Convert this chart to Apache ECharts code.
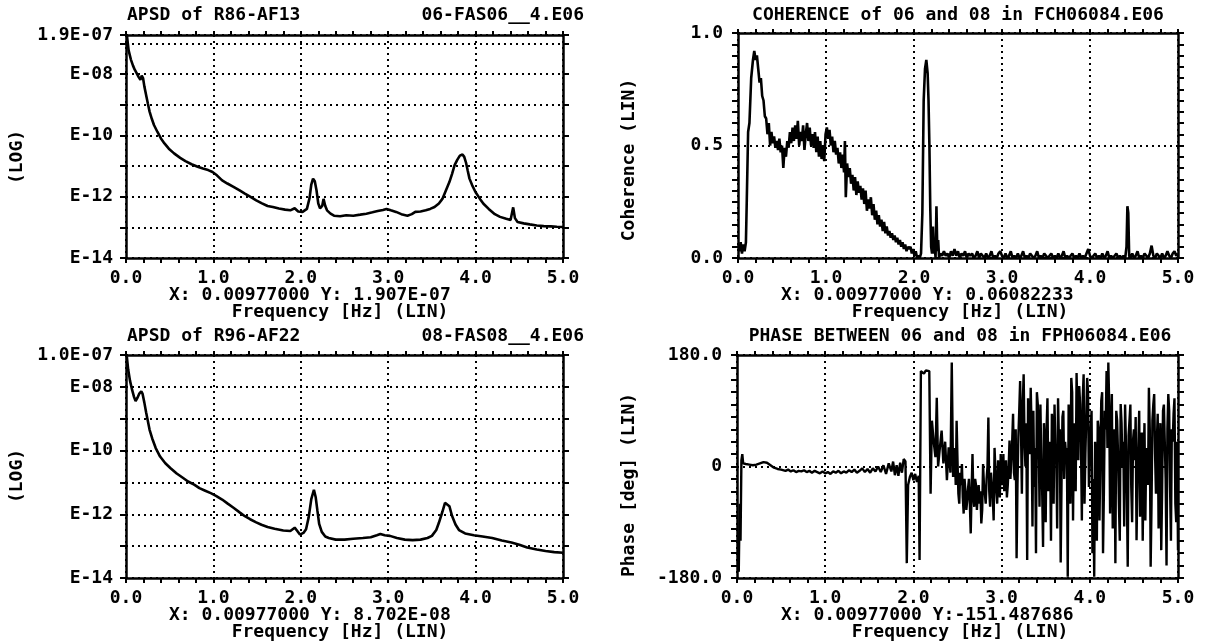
<!DOCTYPE html>
<html><head><meta charset="utf-8">
<script src="https://cdn.jsdelivr.net/npm/echarts@6/dist/echarts.min.js"></script>
<style>html,body{margin:0;padding:0;background:#fff}#c{width:1206px;height:644px}</style>
</head><body><div id="c"></div>
<script>
// ---------- data ----------
const xTickLabels = ['0.0','1.0','2.0','3.0','4.0','5.0'];

// APSD of R86-AF13 (top left)
const freqA = [0.00977,0.03,0.056,0.08,0.10,0.12,0.145,0.165,0.18,0.195,0.21,0.23,0.25,0.27,0.295,0.32,0.36,0.40,0.44,0.49,0.55,0.62,0.68,0.75,0.82,0.88,0.94,0.99,1.04,1.10,1.16,1.23,1.30,1.36,1.42,1.49,1.55,1.62,1.68,1.75,1.82,1.88,1.93,1.97,2.02,2.07,2.10,2.12,2.14,2.16,2.18,2.20,2.22,2.245,2.26,2.28,2.30,2.34,2.38,2.45,2.52,2.60,2.68,2.75,2.82,2.88,2.94,2.98,3.03,3.09,3.15,3.22,3.27,3.31,3.37,3.43,3.48,3.53,3.58,3.62,3.66,3.70,3.73,3.76,3.79,3.82,3.85,3.87,3.89,3.91,3.93,3.96,4.00,4.05,4.09,4.15,4.22,4.28,4.35,4.40,4.43,4.45,4.48,4.55,4.62,4.70,4.78,4.86,4.93,5.00];
const apsdA = [1.9e-7,6.0e-8,3.0e-8,1.9e-8,1.4e-8,1.1e-8,8.0e-9,6.5e-9,9.0e-9,7.5e-9,4.0e-9,2.1e-9,1.1e-9,6.0e-10,3.5e-10,2.2e-10,1.3e-10,8.0e-11,5.5e-11,3.7e-11,2.6e-11,1.85e-11,1.45e-11,1.15e-11,9.5e-12,8.3e-12,7.4e-12,6.4e-12,5.0e-12,3.4e-12,2.7e-12,2.1e-12,1.6e-12,1.26e-12,1.0e-12,7.6e-13,6.2e-13,5.0e-13,4.6e-13,4.1e-13,3.8e-13,3.6e-13,4.2e-13,3.3e-13,3.2e-13,4.0e-13,9.0e-13,2.5e-12,3.9e-12,3.2e-12,1.6e-12,6.0e-13,4.2e-13,5.0e-13,8.5e-13,5.0e-13,3.6e-13,2.8e-13,2.4e-13,2.3e-13,2.5e-13,2.4e-13,2.6e-13,2.8e-13,3.1e-13,3.4e-13,3.7e-13,4.0e-13,3.6e-13,3.2e-13,2.7e-13,2.4e-13,2.7e-13,3.2e-13,3.3e-13,3.6e-13,4.0e-13,4.6e-13,6.0e-13,8.5e-13,1.6e-12,3.0e-12,5.5e-12,1.07e-11,1.6e-11,2.2e-11,2.4e-11,2.0e-11,1.3e-11,7.0e-12,3.9e-12,2.4e-12,1.4e-12,8.5e-13,5.9e-13,4.0e-13,2.7e-13,2.2e-13,1.9e-13,1.75e-13,4.5e-13,2.0e-13,1.5e-13,1.35e-13,1.25e-13,1.15e-13,1.1e-13,1.08e-13,1.05e-13,1.03e-13];

// APSD of R96-AF22 (bottom left)
const freqB = [0.00977,0.025,0.045,0.07,0.09,0.11,0.13,0.15,0.175,0.19,0.21,0.23,0.25,0.27,0.30,0.34,0.39,0.45,0.51,0.58,0.65,0.71,0.78,0.84,0.90,0.97,1.03,1.10,1.16,1.23,1.30,1.36,1.42,1.49,1.55,1.62,1.70,1.80,1.88,1.93,1.96,1.99,2.03,2.06,2.09,2.12,2.15,2.17,2.19,2.21,2.24,2.28,2.32,2.40,2.50,2.60,2.71,2.80,2.87,2.91,2.96,3.02,3.10,3.19,3.28,3.37,3.45,3.50,3.55,3.58,3.62,3.65,3.67,3.70,3.73,3.77,3.81,3.88,3.98,4.08,4.19,4.30,4.41,4.50,4.59,4.70,4.80,4.90,5.00];
const apsdB = [8.7e-8,3.5e-8,1.6e-8,8.0e-9,5.0e-9,3.6e-9,4.5e-9,6.0e-9,7.3e-9,6.0e-9,3.2e-9,1.6e-9,8.5e-10,4.5e-10,2.4e-10,1.2e-10,6.5e-11,4.0e-11,2.8e-11,1.9e-11,1.4e-11,1.07e-11,8.5e-12,6.6e-12,5.6e-12,4.6e-12,3.8e-12,2.9e-12,2.2e-12,1.6e-12,1.15e-12,8.7e-13,7.0e-13,5.6e-13,4.7e-13,4.0e-13,3.5e-13,3.1e-13,3.0e-13,3.8e-13,3.0e-13,2.3e-13,2.6e-13,3.4e-13,8.0e-13,3.0e-12,5.9e-12,3.5e-12,1.3e-12,5.0e-13,2.8e-13,2.0e-13,1.8e-13,1.6e-13,1.6e-13,1.7e-13,1.8e-13,1.9e-13,2.2e-13,2.4e-13,2.2e-13,2.1e-13,1.8e-13,1.6e-13,1.55e-13,1.6e-13,1.8e-13,2.1e-13,3.2e-13,5.4e-13,1.2e-12,2.3e-12,2.6e-12,1.8e-12,9.0e-13,4.8e-13,3.2e-13,2.5e-13,2.2e-13,2.0e-13,1.8e-13,1.5e-13,1.3e-13,1.1e-13,9.0e-14,7.8e-14,7.0e-14,6.5e-14,6.2e-14];

// Coherence of 06 and 08 (top right)
const freqC = [0.00977,0.02,0.03,0.045,0.06,0.075,0.09,0.10,0.115,0.13,0.15,0.17,0.185,0.20,0.215,0.23,0.245,0.26,0.275,0.29,0.305,0.32,0.335,0.35,0.365,0.38,0.395,0.41,0.425,0.44,0.455,0.47,0.485,0.50,0.515,0.53,0.545,0.56,0.575,0.59,0.605,0.62,0.635,0.65,0.665,0.68,0.695,0.71,0.725,0.74,0.755,0.77,0.785,0.80,0.815,0.83,0.845,0.86,0.875,0.89,0.905,0.92,0.935,0.95,0.965,0.98,0.995,1.01,1.025,1.04,1.055,1.07,1.085,1.10,1.115,1.13,1.145,1.16,1.175,1.19,1.205,1.215,1.225,1.24,1.255,1.27,1.285,1.30,1.315,1.33,1.345,1.36,1.375,1.39,1.405,1.42,1.435,1.45,1.465,1.48,1.495,1.51,1.525,1.54,1.555,1.57,1.585,1.60,1.615,1.63,1.645,1.66,1.675,1.69,1.705,1.72,1.735,1.75,1.765,1.78,1.795,1.81,1.825,1.84,1.855,1.87,1.885,1.90,1.915,1.93,1.945,1.96,1.975,1.99,2.005,2.02,2.035,2.05,2.065,2.08,2.095,2.11,2.125,2.14,2.155,2.165,2.175,2.185,2.195,2.205,2.215,2.225,2.235,2.245,2.255,2.265,2.275,2.285,2.30,2.32,2.34,2.36,2.38,2.40,2.42,2.44,2.46,2.48,2.50,2.52,2.54,2.56,2.58,2.60,2.62,2.64,2.66,2.68,2.70,2.72,2.74,2.76,2.78,2.80,2.82,2.84,2.86,2.88,2.90,2.92,2.94,2.96,2.98,3.00,3.02,3.04,3.06,3.08,3.10,3.12,3.14,3.16,3.18,3.20,3.22,3.24,3.26,3.28,3.30,3.32,3.34,3.36,3.38,3.40,3.42,3.44,3.46,3.48,3.50,3.52,3.54,3.56,3.58,3.60,3.62,3.64,3.66,3.68,3.70,3.72,3.74,3.76,3.78,3.80,3.82,3.84,3.86,3.88,3.90,3.92,3.94,3.96,3.98,4.00,4.02,4.04,4.06,4.08,4.10,4.12,4.14,4.16,4.18,4.20,4.22,4.24,4.26,4.28,4.30,4.32,4.34,4.36,4.38,4.40,4.415,4.425,4.435,4.445,4.46,4.48,4.50,4.52,4.54,4.56,4.58,4.60,4.62,4.64,4.66,4.68,4.70,4.72,4.74,4.76,4.78,4.80,4.82,4.84,4.86,4.88,4.90,4.92,4.94,4.96,4.98,5.00];
const coh = [0.06,0.03,0.07,0.02,0.06,0.03,0.07,0.26,0.56,0.60,0.80,0.88,0.92,0.88,0.90,0.84,0.78,0.80,0.72,0.70,0.63,0.62,0.55,0.60,0.50,0.56,0.51,0.54,0.49,0.52,0.48,0.53,0.47,0.50,0.40,0.49,0.45,0.52,0.49,0.56,0.51,0.58,0.52,0.59,0.53,0.61,0.50,0.56,0.52,0.59,0.48,0.55,0.60,0.52,0.58,0.50,0.55,0.49,0.56,0.47,0.54,0.45,0.52,0.44,0.50,0.43,0.55,0.58,0.53,0.57,0.50,0.54,0.47,0.52,0.46,0.49,0.42,0.47,0.40,0.46,0.38,0.52,0.27,0.42,0.36,0.40,0.33,0.37,0.30,0.36,0.28,0.34,0.29,0.32,0.26,0.31,0.24,0.30,0.21,0.26,0.22,0.27,0.19,0.24,0.17,0.21,0.15,0.19,0.14,0.17,0.12,0.16,0.11,0.14,0.10,0.12,0.09,0.11,0.08,0.10,0.07,0.09,0.06,0.08,0.05,0.07,0.04,0.06,0.03,0.05,0.04,0.05,0.02,0.04,0.01,0.03,0.00,0.01,0.00,0.02,0.20,0.70,0.84,0.88,0.82,0.70,0.50,0.22,0.05,0.02,0.14,0.02,0.06,0.00,0.23,0.03,0.08,0.00,0.02,0.01,0.03,0.01,0.02,0.00,0.03,0.01,0.04,0.01,0.03,0.00,0.02,0.01,0.03,0.00,0.02,0.01,0.02,0.00,0.01,0.03,0.00,0.02,0.01,0.00,0.02,0.00,0.01,0.03,0.00,0.01,0.00,0.02,0.03,0.01,0.00,0.02,0.00,0.01,0.03,0.00,0.01,0.00,0.02,0.00,0.01,0.03,0.00,0.01,0.00,0.02,0.01,0.00,0.01,0.03,0.00,0.01,0.00,0.02,0.01,0.00,0.01,0.02,0.00,0.01,0.00,0.02,0.00,0.01,0.03,0.00,0.01,0.00,0.01,0.02,0.00,0.01,0.00,0.02,0.00,0.01,0.00,0.02,0.04,0.01,0.00,0.01,0.02,0.00,0.01,0.00,0.02,0.00,0.01,0.03,0.00,0.01,0.00,0.01,0.02,0.00,0.01,0.00,0.01,0.00,0.05,0.23,0.20,0.01,0.00,0.02,0.00,0.01,0.03,0.00,0.01,0.00,0.02,0.01,0.00,0.02,0.055,0.01,0.00,0.02,0.01,0.00,0.02,0.00,0.01,0.03,0.01,0.00,0.02,0.03,0.01,0.02];

// Phase between 06 and 08 (bottom right), degrees
const freqP = [0.00977,0.02,0.03,0.04,0.05,0.06,0.07,0.08,0.10,0.12,0.14,0.16,0.18,0.20,0.22,0.24,0.26,0.28,0.30,0.32,0.34,0.36,0.38,0.40,0.42,0.44,0.46,0.48,0.50,0.52,0.55,0.58,0.61,0.64,0.67,0.70,0.73,0.76,0.79,0.82,0.85,0.88,0.91,0.94,0.97,1.00,1.03,1.06,1.09,1.12,1.15,1.18,1.21,1.24,1.27,1.30,1.33,1.36,1.39,1.42,1.45,1.48,1.51,1.54,1.57,1.60,1.63,1.66,1.69,1.72,1.75,1.77,1.79,1.81,1.83,1.85,1.87,1.89,1.91,1.925,1.94,1.96,1.98,2.00,2.02,2.04,2.06,2.07,2.085,2.10,2.12,2.14,2.16,2.18,2.195,2.21,2.23,2.25,2.265,2.28,2.30,2.32,2.34,2.36,2.38,2.40,2.42,2.435,
  2.45,2.46,2.47,2.48,2.49,2.50,2.51,2.52,2.53,2.54,2.55,2.56,2.57,2.58,2.59,2.60,2.61,2.62,2.63,2.64,2.65,2.66,2.67,2.68,2.69,2.70,2.71,2.72,2.73,2.74,2.75,2.76,2.77,2.78,2.79,2.80,2.81,2.82,2.83,2.84,2.85,2.86,2.87,2.88,2.89,2.90,2.91,2.92,2.93,2.94,2.95,2.96,2.97,2.98,2.99,
  3.00,3.01,3.02,3.03,3.04,3.05,3.06,3.07,3.08,3.09,3.10,3.11,3.12,3.13,3.14,3.15,3.16,3.17,3.18,3.19,3.20,3.21,3.22,3.23,3.24,3.25,3.26,3.27,3.28,3.29,3.30,3.31,3.32,3.33,3.34,3.35,3.36,3.37,3.38,3.39,3.40,3.41,3.42,3.43,3.44,3.45,3.46,3.47,3.48,3.49,3.50,3.51,3.52,3.53,3.54,3.55,3.56,3.57,3.58,3.59,3.60,3.61,3.62,3.63,3.64,3.65,3.66,3.67,3.68,3.69,3.70,3.71,3.72,3.73,3.74,3.75,3.76,3.77,3.78,3.79,3.80,3.81,3.82,3.83,3.84,3.85,3.86,3.87,3.88,3.89,3.90,3.91,3.92,3.93,3.94,3.95,3.96,3.97,3.98,3.99,
  4.00,4.01,4.02,4.03,4.04,4.05,4.06,4.07,4.08,4.09,4.10,4.11,4.12,4.13,4.14,4.15,4.16,4.17,4.18,4.19,4.20,4.21,4.22,4.23,4.24,4.25,4.26,4.27,4.28,4.29,4.30,4.31,4.32,4.33,4.34,4.35,4.36,4.37,4.38,4.39,4.40,4.41,4.42,4.43,4.44,4.45,4.46,4.47,4.48,4.49,4.50,4.51,4.52,4.53,4.54,4.55,4.56,4.57,4.58,4.59,4.60,4.61,4.62,4.63,4.64,4.65,4.66,4.67,4.68,4.69,4.70,4.71,4.72,4.73,4.74,4.75,4.76,4.77,4.78,4.79,4.80,4.81,4.82,4.83,4.84,4.85,4.86,4.87,4.88,4.89,4.90,4.91,4.92,4.93,4.94,4.95,4.96,4.97,4.98,4.99,5.00];
const phase = [-151,-170,-60,-120,10,20,5,2,4,1,3,0,2,4,3,6,5,8,7,5,6,3,2,0,-2,-1,-4,-3,-5,-4,-7,-5,-8,-6,-9,-7,-8,-6,-9,-7,-10,-7,-9,-11,-8,-11,-9,-12,-8,-10,-7,-11,-8,-10,-6,-9,-5,-10,-7,-3,-9,-4,-10,-3,-8,0,-9,2,-12,5,-8,8,-14,2,-15,6,-10,12,8,-156,-30,-17,-10,-22,-12,-25,-15,-151,154,154,150,155,152,154,-44,74,40,15,111,0,30,58,5,40,-22,31,-10,168,
  -17,30,20,-30,74,10,-44,-60,-10,-30,4,-50,-76,-20,-40,-70,-55,-35,-20,-60,-108,-40,20,-50,-65,-20,-30,-70,-44,-30,-60,-40,-92,-70,4,-30,-44,-60,-20,0,79,-40,-65,-10,-30,-50,-87,30,-6,-40,-60,10,-20,-50,20,
  -30,-17,20,-40,-20,10,-50,-30,0,42,-20,10,40,85,-10,-22,60,-148,-30,47,90,138,60,-44,100,149,40,0,70,-151,110,31,20,127,60,-97,90,-33,30,-140,120,101,50,-65,100,10,-40,-130,70,31,-90,60,110,-40,40,20,-120,85,60,-60,100,30,20,-100,110,40,60,-155,-20,80,90,-20,40,20,30,-178,100,-33,-60,143,120,-87,70,40,-40,151,80,10,130,101,40,-87,110,149,-60,20,80,143,120,-33,
  20,60,90,-140,-20,-178,40,-22,-120,74,60,-87,20,106,120,-140,-40,90,60,154,30,168,100,-76,40,117,-100,20,60,-156,90,74,20,-60,-120,101,70,0,40,-97,100,36,-40,-162,50,74,100,-33,-90,42,60,10,80,-119,-20,31,90,-81,20,55,-120,10,70,-87,30,20,-30,127,60,-162,-60,74,100,117,20,-44,40,85,-100,0,70,-135,-40,90,100,40,-20,-160,60,117,90,-33,-120,60,40,85,110,-60,-90,40,-135];

// ---------- chart ----------
const FONT = 'DejaVu Sans Mono';
const txt = {fontFamily: FONT, fontWeight: 'bold', fontSize: 18, color: '#000'};
const lineS = {color: '#000', width: 2.5};
const tickS = {color: '#000', width: 2};
const dotS = {color: '#000', width: 2, type: [2, 4]};
const zip = (a, b) => a.map((x, i) => [x, b[i]]);

const grids = [
  {left: 126, top: 35, width: 437, height: 223},
  {left: 738, top: 33, width: 440, height: 225},
  {left: 126, top: 355, width: 437, height: 223},
  {left: 737, top: 355, width: 441, height: 223}
].map(g => Object.assign({containLabel: false, outerBoundsMode: 'none'}, g));

function xPair(g) {
  return [
    {gridIndex: g, type: 'value', position: 'bottom', min: 0, max: 5, interval: 1,
     axisLine: {onZero: false, lineStyle: lineS},
     axisTick: {show: true, length: 5, lineStyle: tickS},
     minorTick: {show: true, splitNumber: 5, length: 5, lineStyle: tickS},
     axisLabel: Object.assign({margin: 11, formatter: v => xTickLabels[Math.round(v)]}, txt),
     splitLine: {show: true, lineStyle: dotS}},
    {gridIndex: g, type: 'value', position: 'top', min: 0, max: 5, interval: 1,
     axisLine: {onZero: false, lineStyle: lineS},
     axisTick: {show: true, length: 4, lineStyle: tickS},
     minorTick: {show: true, splitNumber: 5, length: 4, lineStyle: tickS},
     axisLabel: {show: false}, splitLine: {show: false}}
  ];
}
function logPair(g, maxV, maxLabel) {
  const fmt = v => {
    if (Math.abs(v - maxV) / maxV < 0.01) return maxLabel;
    const e = Math.round(Math.log10(v));
    return (e % 2 === 0) ? 'E-' + String(-e).padStart(2, '0') : '';
  };
  const base = {gridIndex: g, type: 'log', logBase: 10, min: 1e-14, max: maxV, interval: 1,
    axisLine: {onZero: false, lineStyle: lineS},
    axisTick: {show: true, length: 6, lineStyle: tickS}};
  return [
    Object.assign({}, base, {position: 'left',
      axisLabel: Object.assign({margin: 13, formatter: fmt, showMinLabel: true, showMaxLabel: true}, txt),
      splitLine: {show: true, lineStyle: dotS}}),
    Object.assign({}, base, {position: 'right', axisLabel: {show: false}, splitLine: {show: false}})
  ];
}
function linPair(g, min, max, interval, minorSplit, fmt) {
  const base = {gridIndex: g, type: 'value', min, max, interval,
    axisLine: {onZero: false, lineStyle: lineS},
    axisTick: {show: true, length: 6, lineStyle: tickS},
    minorTick: {show: true, splitNumber: minorSplit, length: 6, lineStyle: tickS}};
  return [
    Object.assign({}, base, {position: 'left',
      axisLabel: Object.assign({margin: 15, formatter: fmt, showMinLabel: true, showMaxLabel: true}, txt),
      splitLine: {show: true, lineStyle: dotS}}),
    Object.assign({}, base, {position: 'right', axisLabel: {show: false}, splitLine: {show: false}})
  ];
}

const xAxis = [].concat(xPair(0), xPair(1), xPair(2), xPair(3));
const yAxis = [].concat(
  logPair(0, 1.9e-7, '1.9E-07'),
  linPair(1, 0, 1, 0.5, 10, v => v.toFixed(1)),
  logPair(2, 1.0e-7, '1.0E-07'),
  linPair(3, -180, 180, 180, 9, v => v === 0 ? '0' : v.toFixed(1))
);

const mk = (i, data, w) => ({type: 'line', xAxisIndex: 2 * i, yAxisIndex: 2 * i, data,
  showSymbol: false, symbol: 'none', lineStyle: {color: '#000', width: w}, z: 3, animation: false});

function T(x, y, text, align, rot) {
  return {type: 'text', x, y, rotation: rot || 0, z: 10,
    style: {text, fill: '#000', font: 'bold 18px "DejaVu Sans Mono"', align: align || 'left', verticalAlign: 'middle'}};
}
const R = Math.PI / 2;

const chart = echarts.init(document.getElementById('c'), null, {renderer: 'canvas'});
chart.setOption({
  backgroundColor: '#fff',
  animation: false,
  grid: grids,
  xAxis, yAxis,
  series: [mk(0, zip(freqA, apsdA), 2.6), mk(1, zip(freqC, coh), 2.6), mk(2, zip(freqB, apsdB), 2.6), mk(3, zip(freqP, phase), 2.4)],
  graphic: [
    T(127, 15.5, 'APSD of R86-AF13', 'left'),
    T(584, 15.5, '06-FAS06__4.E06', 'right'),
    T(958, 15.5, 'COHERENCE of 06 and 08 in FCH06084.E06', 'center'),
    T(127, 336, 'APSD of R96-AF22', 'left'),
    T(584, 336, '08-FAS08__4.E06', 'right'),
    T(960, 336, 'PHASE BETWEEN 06 and 08 in FPH06084.E06', 'center'),
    T(169, 295, 'X: 0.00977000 Y: 1.907E-07', 'left'),
    T(781, 295, 'X: 0.00977000 Y: 0.06082233', 'left'),
    T(169, 615, 'X: 0.00977000 Y: 8.702E-08', 'left'),
    T(781, 615, 'X: 0.00977000 Y:-151.487686', 'left'),
    T(340, 312, 'Frequency [Hz] (LIN)', 'center'),
    T(960, 312, 'Frequency [Hz] (LIN)', 'center'),
    T(340, 632, 'Frequency [Hz] (LIN)', 'center'),
    T(960, 632, 'Frequency [Hz] (LIN)', 'center'),
    T(17, 157, '(LOG)', 'center', R),
    T(629, 160, 'Coherence (LIN)', 'center', R),
    T(17, 476, '(LOG)', 'center', R),
    T(629, 485, 'Phase [deg] (LIN)', 'center', R)
  ]
});
</script></body></html>
